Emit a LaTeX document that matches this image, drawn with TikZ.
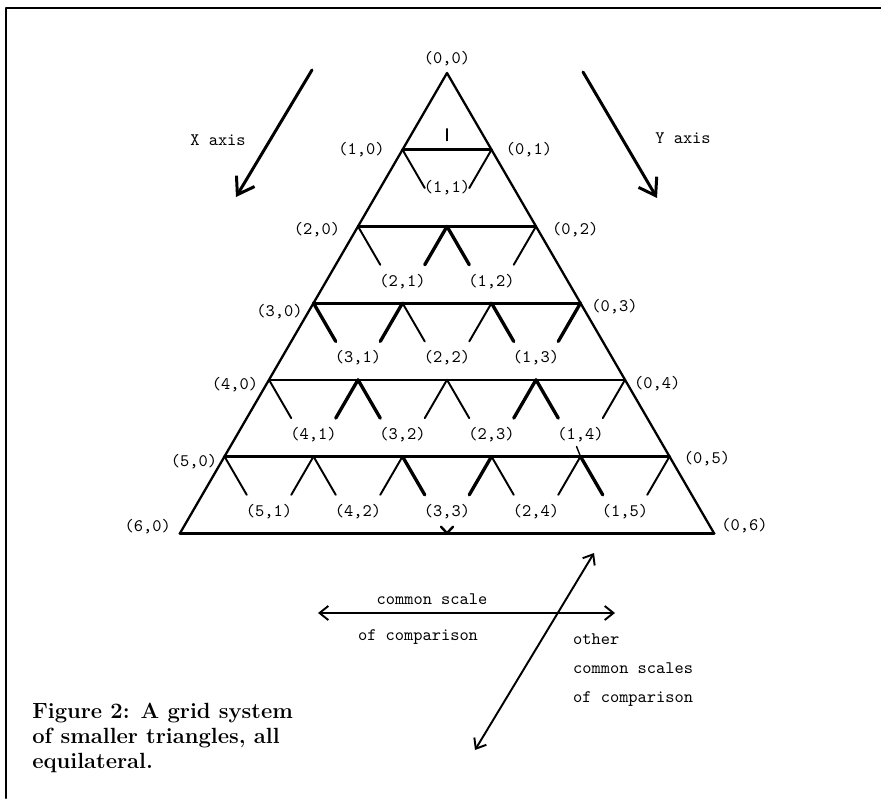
\documentclass[tikz,border=0pt]{standalone}
\usepackage{tikz}
\usetikzlibrary{arrows.meta,calc,positioning}

\tikzset{
  lbl/.style={font=\ttfamily\fontsize{10}{12}\selectfont, inner sep=1pt},
  txt/.style={font=\ttfamily\fontsize{10}{12}\selectfont, inner sep=1pt},
  rim/.style={line width=1.3pt},
  spur/.style={line width=1.1pt},
  spurbold/.style={line width=1.9pt},
  axisarrow/.style={line width=1.7pt, -{Straight Barb[length=9pt,width=12pt]}},
  scalearrow/.style={line width=1.1pt, {Straight Barb[length=5pt,width=8pt]}-{Straight Barb[length=5pt,width=8pt]}},
}

\begin{document}
\begin{tikzpicture}[line cap=round, line join=round]
  \useasboundingbox (0,0) rectangle (17.62,15.96);
  \draw[line width=1.2pt] (0.12,0) -- (0.12,15.8) -- (17.62,15.8);

  % lattice points (i,j), row k = i+j
  \foreach \k in {0,...,6}
    \foreach \j in {0,...,\k} {
      \pgfmathtruncatemacro\i{\k-\j}
      \coordinate (p-\i-\j) at ({8.94+(\j-\i)*0.89},{14.5-\k*1.534});
    }

  \draw[rim] (p-0-0) -- (p-6-0) -- (p-0-6) -- cycle;
  \draw[line width=1.8pt] (p-6-0) -- (p-0-6);
  \foreach \k/\w in {1/1.5,2/1.3,3/1.8,4/1.3,5/1.8}
    \draw[line width=\w pt] (p-\k-0) -- (p-0-\k);

  % half edges hanging from each row
  \foreach \k in {1,...,5}
    \foreach \j in {0,...,\k} {
      \pgfmathtruncatemacro\i{\k-\j}
      \pgfmathtruncatemacro\ia{\i+1}
      \pgfmathtruncatemacro\ja{\j+1}
      \ifnum\j>0 \draw[spur] (p-\i-\j) -- ($(p-\i-\j)!0.5!(p-\ia-\j)$); \fi
      \ifnum\i>0 \draw[spur] (p-\i-\j) -- ($(p-\i-\j)!0.5!(p-\i-\ja)$); \fi
    }
  \foreach \a/\b/\c/\d in {1/1/2/1, 1/1/1/2, 3/0/3/1, 2/1/3/1, 1/2/1/3, 0/3/1/3,
      3/1/4/1, 3/1/3/2, 1/3/2/3, 1/3/1/4, 3/2/3/3, 2/3/3/3, 1/4/1/5}
    \draw[spurbold] (p-\a-\b) -- ($(p-\a-\b)!0.5!(p-\c-\d)$);

  \coordinate (m1) at ($(p-1-0)!0.5!(p-0-1)$);
  \draw[line width=0.6pt] ($(m1)+(0,0.18)$) -- ($(m1)+(0,0.42)$);
  \draw[line width=1.4pt] ($(p-3-3)+(-0.12,0.13)$) -- (p-3-3) -- ($(p-3-3)+(0.12,0.13)$);
  \draw[line width=0.8pt] (p-1-4) -- ++(-0.08,0.2);

  % labels
  \node[lbl, above=3pt] (l-0-0) at (p-0-0) {(0,0)};
  \foreach \k/\g/\dy in {1/9/0, 2/9/-2, 3/5/-5, 4/5/-3, 5/3/-3, 6/4/3.5}
    \node[lbl, left=\g pt, yshift=\dy pt] (l-\k-0) at (p-\k-0) {(\k,0)};
  \foreach \k/\g/\dy in {1/7/0, 2/8/-2, 3/5/-2, 4/4/-2, 5/7/-1, 6/3/4.5}
    \node[lbl, right=\g pt, yshift=\dy pt] (l-0-\k) at (p-0-\k) {(0,\k)};
  \node[lbl] (l-1-1) at ($(p-1-0)!0.5!(p-0-1)+(0,-0.76)$) {(1,1)};
  \foreach \k in {3,...,6} {
    \pgfmathtruncatemacro\m{\k-1}
    \foreach \j in {1,...,\m} {
      \pgfmathtruncatemacro\i{\k-\j}
      \pgfmathtruncatemacro\im{\i-1}
      \pgfmathtruncatemacro\jm{\j-1}
      \node[lbl] (l-\i-\j) at ($(p-\i-\jm)!0.5!(p-\im-\j)+(0,-1.1)$) {(\i,\j)};
    }
  }

  % axes
  \coordinate (xa0) at (6.24,14.56);
  \coordinate (xa1) at (4.72,12.02);
  \coordinate (ya0) at (11.66,14.52);
  \coordinate (ya1) at (13.14,12.0);
  \draw[axisarrow] (xa0) -- (xa1);
  \draw[axisarrow] (ya0) -- (ya1);
  \node[txt] (xlab) at (4.36,13.16) {X axis};
  \node[txt] (ylab) at (13.66,13.2) {Y axis};

  % scales of comparison
  \coordinate (cs0) at (6.36,3.70);
  \coordinate (cs1) at (12.30,3.70);
  \coordinate (os0) at (9.50,0.96);
  \coordinate (os1) at (11.88,4.90);
  \draw[scalearrow] (cs0) -- (cs1);
  \draw[scalearrow] (os0) -- (os1);
  \node[txt] (cs-top) at (8.64,3.98) {common scale};
  \node[txt] (cs-bot) at (8.36,3.22) {of comparison};
  \node[txt, anchor=west, align=left, font=\ttfamily\fontsize{10}{16.4}\selectfont] (os-lab) at (11.42,2.56)
    {other\\common scales\\of comparison};

  \node[anchor=north west, inner sep=0pt, align=left, font=\bfseries\fontsize{12.5}{14.2}\selectfont] (caption) at (0.64,1.9)
    {Figure 2: A grid system\\of smaller triangles, all\\equilateral.};
\end{tikzpicture}
\end{document}
